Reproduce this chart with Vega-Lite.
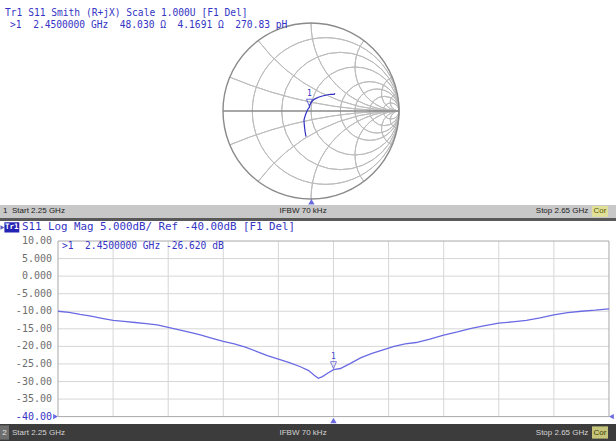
{
  "$schema": "https://vega.github.io/schema/vega-lite/v6.json",
  "background": "white",
  "padding": 0,
  "spacing": 0,
  "config": {"view": {"stroke": null}, "axis": {"disable": true}, "concat": {"spacing": 0}},
  "datasets": {
    "rcircles": [
      {"r": 0.2, "cx": 0.16667, "cy": 0, "R": 0.83333, "t0": 0, "t1": 6.28319},
      {"r": 0.5, "cx": 0.33333, "cy": 0, "R": 0.66667, "t0": 0, "t1": 6.28319},
      {"r": 1, "cx": 0.5, "cy": 0, "R": 0.5, "t0": 0, "t1": 6.28319},
      {"r": 2, "cx": 0.66667, "cy": 0, "R": 0.33333, "t0": 0, "t1": 6.28319},
      {"r": 3, "cx": 0.75, "cy": 0, "R": 0.25, "t0": 0, "t1": 6.28319},
      {"r": 5, "cx": 0.83333, "cy": 0, "R": 0.16667, "t0": 0, "t1": 6.28319},
      {"r": 10, "cx": 0.90909, "cy": 0, "R": 0.09091, "t0": 0, "t1": 6.28319}
    ],
    "xarcs": [
      {"x": 0.2, "cx": 1, "cy": 5, "R": 5, "t0": 3.14159, "t1": 3.53638},
      {"x": 0.5, "cx": 1, "cy": 2, "R": 2, "t0": 3.14159, "t1": 4.06889},
      {"x": 1, "cx": 1, "cy": 1, "R": 1, "t0": 3.14159, "t1": 4.71239},
      {"x": 2, "cx": 1, "cy": 0.5, "R": 0.5, "t0": 3.14159, "t1": 5.35589},
      {"x": 5, "cx": 1, "cy": 0.2, "R": 0.2, "t0": 3.14159, "t1": 5.88839},
      {"x": 10, "cx": 1, "cy": 0.1, "R": 0.1, "t0": 3.14159, "t1": 6.08385},
      {"x": -0.2, "cx": 1, "cy": -5, "R": 5, "t0": 5.8884, "t1": 6.28319},
      {"x": -0.5, "cx": 1, "cy": -2, "R": 2, "t0": 5.35589, "t1": 6.28319},
      {"x": -1, "cx": 1, "cy": -1, "R": 1, "t0": 4.71239, "t1": 6.28319},
      {"x": -2, "cx": 1, "cy": -0.5, "R": 0.5, "t0": 4.06889, "t1": 6.28319},
      {"x": -5, "cx": 1, "cy": -0.2, "R": 0.2, "t0": 3.53639, "t1": 6.28319},
      {"x": -10, "cx": 1, "cy": -0.1, "R": 0.1, "t0": 3.34093, "t1": 6.28319}
    ],
    "outer": [{"cx": 0, "cy": 0, "R": 1, "t0": 0, "t1": 6.28319}],
    "smith": [
      {"i": 0, "gx": 0.273, "gy": 0.201},
      {"i": 1, "gx": 0.262, "gy": 0.19},
      {"i": 2, "gx": 0.22, "gy": 0.19},
      {"i": 3, "gx": 0.178, "gy": 0.182},
      {"i": 4, "gx": 0.13, "gy": 0.17},
      {"i": 5, "gx": 0.083, "gy": 0.156},
      {"i": 6, "gx": 0.04, "gy": 0.135},
      {"i": 7, "gx": 0.008, "gy": 0.106},
      {"i": 8, "gx": -0.012, "gy": 0.072},
      {"i": 9, "gx": -0.018, "gy": 0.043},
      {"i": 10, "gx": -0.035, "gy": 0.02},
      {"i": 11, "gx": -0.049, "gy": -0.008},
      {"i": 12, "gx": -0.065, "gy": -0.05},
      {"i": 13, "gx": -0.08, "gy": -0.102},
      {"i": 14, "gx": -0.078, "gy": -0.14},
      {"i": 15, "gx": -0.074, "gy": -0.178},
      {"i": 16, "gx": -0.068, "gy": -0.23},
      {"i": 17, "gx": -0.057, "gy": -0.292}
    ],
    "logmag": [
      {"f": 2.25, "db": -10.0}, {"f": 2.258, "db": -10.3}, {"f": 2.266, "db": -10.9},
      {"f": 2.274, "db": -11.4}, {"f": 2.282, "db": -12.0}, {"f": 2.29, "db": -12.6},
      {"f": 2.298, "db": -12.9}, {"f": 2.306, "db": -13.2}, {"f": 2.314, "db": -13.5},
      {"f": 2.322, "db": -13.9}, {"f": 2.33, "db": -14.6}, {"f": 2.338, "db": -15.3},
      {"f": 2.346, "db": -16.0}, {"f": 2.354, "db": -16.8}, {"f": 2.362, "db": -17.7},
      {"f": 2.37, "db": -18.6}, {"f": 2.378, "db": -19.3}, {"f": 2.386, "db": -20.2},
      {"f": 2.394, "db": -21.4}, {"f": 2.402, "db": -22.6}, {"f": 2.41, "db": -23.6},
      {"f": 2.418, "db": -24.6}, {"f": 2.426, "db": -25.8}, {"f": 2.432, "db": -26.9},
      {"f": 2.436, "db": -28.2}, {"f": 2.439, "db": -29.1}, {"f": 2.442, "db": -28.6},
      {"f": 2.446, "db": -27.6}, {"f": 2.45, "db": -26.62}, {"f": 2.455, "db": -26.3},
      {"f": 2.462, "db": -24.9}, {"f": 2.47, "db": -23.2}, {"f": 2.478, "db": -22.0},
      {"f": 2.486, "db": -21.0}, {"f": 2.494, "db": -20.0}, {"f": 2.502, "db": -19.3},
      {"f": 2.51, "db": -18.9}, {"f": 2.52, "db": -17.9}, {"f": 2.53, "db": -16.8},
      {"f": 2.54, "db": -15.9}, {"f": 2.55, "db": -14.9}, {"f": 2.56, "db": -14.1},
      {"f": 2.57, "db": -13.4}, {"f": 2.58, "db": -13.0}, {"f": 2.59, "db": -12.6},
      {"f": 2.6, "db": -11.9}, {"f": 2.61, "db": -11.0}, {"f": 2.62, "db": -10.4},
      {"f": 2.63, "db": -10.0}, {"f": 2.64, "db": -9.7}, {"f": 2.65, "db": -9.3}
    ],
    "vgrid": [{"f": 2.29}, {"f": 2.33}, {"f": 2.37}, {"f": 2.41}, {"f": 2.45}, {"f": 2.49}, {"f": 2.53}, {"f": 2.57}, {"f": 2.61}],
    "hgrid": [{"v": -35}, {"v": -30}, {"v": -25}, {"v": -20}, {"v": -15}, {"v": -10}, {"v": -5}, {"v": 0}, {"v": 5}],
    "ylabels": [
      {"v": 10, "l": "10.00"}, {"v": 5, "l": "5.000"}, {"v": 0, "l": "0.000"}, {"v": -5, "l": "-5.000"},
      {"v": -10, "l": "-10.00"}, {"v": -15, "l": "-15.00"}, {"v": -20, "l": "-20.00"}, {"v": -25, "l": "-25.00"},
      {"v": -30, "l": "-30.00"}, {"v": -35, "l": "-35.00"}
    ]
  },
  "vconcat": [
    {
      "width": 616,
      "height": 205,
      "layer": [
        {
          "data": {"name": "rcircles"},
          "mark": {"type": "arc", "filled": false, "stroke": "#bcbcbc", "strokeWidth": 1, "clip": true},
          "encoding": {
            "x": {"field": "cx", "type": "quantitative", "scale": {"domain": [-3.53409, 3.46591], "nice": false, "zero": false}},
            "y": {"field": "cy", "type": "quantitative", "scale": {"domain": [-1.06818, 1.26136], "nice": false, "zero": false}},
            "radius": {"field": "R", "type": "quantitative", "scale": {"type": "linear", "domain": [0, 1], "range": [0, 88], "zero": true, "nice": false}},
            "radius2": {"field": "R"},
            "theta": {"field": "t0", "type": "quantitative", "scale": null, "stack": null},
            "theta2": {"field": "t1"}
          }
        },
        {
          "data": {"name": "xarcs"},
          "mark": {"type": "arc", "filled": false, "stroke": "#bcbcbc", "strokeWidth": 1, "clip": true},
          "encoding": {
            "x": {"field": "cx", "type": "quantitative"},
            "y": {"field": "cy", "type": "quantitative"},
            "radius": {"field": "R", "type": "quantitative"},
            "radius2": {"field": "R"},
            "theta": {"field": "t0", "type": "quantitative", "scale": null, "stack": null},
            "theta2": {"field": "t1"}
          }
        },
        {
          "data": {"name": "outer"},
          "mark": {"type": "arc", "filled": false, "stroke": "#8a8a8a", "strokeWidth": 1.4, "clip": true},
          "encoding": {
            "x": {"field": "cx", "type": "quantitative"},
            "y": {"field": "cy", "type": "quantitative"},
            "radius": {"field": "R", "type": "quantitative"},
            "radius2": {"field": "R"},
            "theta": {"field": "t0", "type": "quantitative", "scale": null, "stack": null},
            "theta2": {"field": "t1"}
          }
        },
        {
          "data": {"values": [{}]},
          "mark": {"type": "rule", "stroke": "#8a8a8a", "strokeWidth": 1.4},
          "encoding": {"x": {"datum": -1}, "x2": {"datum": 1}, "y": {"datum": 0}}
        },
        {
          "data": {"name": "smith"},
          "mark": {"type": "line", "stroke": "#2f2fc4", "strokeWidth": 1.2},
          "encoding": {
            "x": {"field": "gx", "type": "quantitative"},
            "y": {"field": "gy", "type": "quantitative"},
            "order": {"field": "i", "type": "quantitative"}
          }
        },
        {
          "data": {"values": [{"gx": -0.018, "gy": 0.043}]},
          "mark": {"type": "point", "shape": "M-1.5,-4L1.5,-4L0,-0.5Z", "size": 16, "filled": false, "stroke": "#2f2fc4", "strokeWidth": 1},
          "encoding": {"x": {"field": "gx", "type": "quantitative"}, "y": {"field": "gy", "type": "quantitative"}}
        },
        {
          "data": {"values": [{"gx": -0.018, "gy": 0.043, "t": "1"}]},
          "mark": {"type": "text", "font": "DejaVu Sans Mono", "fontSize": 8, "color": "#2f2fc4", "dy": -13, "baseline": "middle"},
          "encoding": {"x": {"field": "gx", "type": "quantitative"}, "y": {"field": "gy", "type": "quantitative"}, "text": {"field": "t"}}
        },
        {
          "data": {"values": [{}]},
          "mark": {"type": "point", "shape": "triangle-up", "size": 40, "filled": true, "color": "#2a2ad0"},
          "encoding": {"x": {"datum": 0.005}, "y": {"datum": -1.03}}
        },
        {
          "data": {"values": [{"t": "Tr1 S11 Smith (R+jX) Scale 1.000U [F1 Del]"}]},
          "mark": {"type": "text", "font": "DejaVu Sans Mono", "fontSize": 9.6, "color": "#3434c4", "align": "left", "baseline": "middle"},
          "encoding": {"x": {"datum": -3.477}, "y": {"datum": 1.11}, "text": {"field": "t"}}
        },
        {
          "data": {"values": [{"t": ">1\u00a0\u00a02.4500000 GHz\u00a0\u00a048.030 Ω\u00a0\u00a04.1691 Ω\u00a0\u00a0270.83 pH"}]},
          "mark": {"type": "text", "font": "DejaVu Sans Mono", "fontSize": 9.6, "color": "#3434c4", "align": "left", "baseline": "middle"},
          "encoding": {"x": {"datum": -3.42}, "y": {"datum": 0.975}, "text": {"field": "t"}}
        }
      ]
    },
    {
      "width": 616,
      "height": 16,
      "view": {"fill": "#c8c8c8"},
      "layer": [
        {
          "data": {"values": [{}]},
          "mark": {"type": "rect", "fill": "#595959"},
          "encoding": {
            "x": {"datum": 0, "scale": {"domain": [0, 1], "nice": false, "zero": false}},
            "x2": {"datum": 1},
            "y": {"datum": 0, "scale": {"domain": [0, 1], "nice": false, "zero": false}},
            "y2": {"datum": 0.19}
          }
        },
        {
          "data": {"values": [{}]},
          "mark": {"type": "rect", "fill": "#e0e098"},
          "encoding": {"x": {"datum": 0.961}, "x2": {"datum": 0.987}, "y": {"datum": 0.26}, "y2": {"datum": 0.94}}
        },
        {
          "data": {"values": [{"t": "1\u00a0\u00a0Start 2.25 GHz"}]},
          "mark": {"type": "text", "font": "Liberation Sans", "fontSize": 8, "color": "#222222", "align": "left", "baseline": "middle"},
          "encoding": {"x": {"datum": 0.005}, "y": {"datum": 0.6}, "text": {"field": "t"}}
        },
        {
          "data": {"values": [{"t": "IFBW 70 kHz"}]},
          "mark": {"type": "text", "font": "Liberation Sans", "fontSize": 8, "color": "#222222", "align": "center", "baseline": "middle"},
          "encoding": {"x": {"datum": 0.492}, "y": {"datum": 0.6}, "text": {"field": "t"}}
        },
        {
          "data": {"values": [{"t": "Stop 2.65 GHz"}]},
          "mark": {"type": "text", "font": "Liberation Sans", "fontSize": 8, "color": "#222222", "align": "right", "baseline": "middle"},
          "encoding": {"x": {"datum": 0.955}, "y": {"datum": 0.6}, "text": {"field": "t"}}
        },
        {
          "data": {"values": [{"t": "Cor"}]},
          "mark": {"type": "text", "font": "Liberation Sans", "fontSize": 8, "color": "#5a5a00", "align": "center", "baseline": "middle"},
          "encoding": {"x": {"datum": 0.974}, "y": {"datum": 0.6}, "text": {"field": "t"}}
        }
      ]
    },
    {
      "width": 616,
      "height": 203,
      "layer": [
        {
          "data": {"name": "vgrid"},
          "mark": {"type": "rule", "stroke": "#d6d6d6", "strokeWidth": 1},
          "encoding": {
            "x": {"field": "f", "type": "quantitative", "scale": {"domain": [2.2079, 2.6551], "nice": false, "zero": false}},
            "y": {"datum": -40, "scale": {"domain": [-42.1, 15.7], "nice": false, "zero": false}},
            "y2": {"datum": 10}
          }
        },
        {
          "data": {"name": "hgrid"},
          "mark": {"type": "rule", "stroke": "#d6d6d6", "strokeWidth": 1},
          "encoding": {
            "x": {"datum": 2.25},
            "x2": {"datum": 2.65},
            "y": {"field": "v", "type": "quantitative"}
          }
        },
        {
          "data": {"values": [{}]},
          "mark": {"type": "rect", "fill": null, "stroke": "#a8a8a8", "strokeWidth": 1},
          "encoding": {"x": {"datum": 2.25}, "x2": {"datum": 2.65}, "y": {"datum": -40}, "y2": {"datum": 10}}
        },
        {
          "data": {"name": "ylabels"},
          "mark": {"type": "text", "font": "DejaVu Sans Mono", "fontSize": 10, "color": "#6e6e6e", "align": "right", "baseline": "middle", "dx": -6},
          "encoding": {"x": {"datum": 2.25}, "y": {"field": "v", "type": "quantitative"}, "text": {"field": "l"}}
        },
        {
          "data": {"values": [{"t": "-40.00"}]},
          "mark": {"type": "text", "font": "DejaVu Sans Mono", "fontSize": 10, "color": "#3434c4", "align": "right", "baseline": "middle", "dx": -6},
          "encoding": {"x": {"datum": 2.25}, "y": {"datum": -40}, "text": {"field": "t"}}
        },
        {
          "data": {"values": [{}]},
          "mark": {"type": "point", "shape": "triangle-right", "size": 30, "filled": true, "color": "#2a2ad0"},
          "encoding": {"x": {"datum": 2.2482}, "y": {"datum": -40}}
        },
        {
          "data": {"values": [{}]},
          "mark": {"type": "point", "shape": "triangle-left", "size": 30, "filled": true, "color": "#2a2ad0"},
          "encoding": {"x": {"datum": 2.6518}, "y": {"datum": -40}}
        },
        {
          "data": {"values": [{}]},
          "mark": {"type": "point", "shape": "triangle-up", "size": 40, "filled": true, "color": "#2a2ad0"},
          "encoding": {"x": {"datum": 2.45}, "y": {"datum": -41.1}}
        },
        {
          "data": {"name": "logmag"},
          "mark": {"type": "line", "stroke": "#6a6ae4", "strokeWidth": 1.3},
          "encoding": {
            "x": {"field": "f", "type": "quantitative"},
            "y": {"field": "db", "type": "quantitative"}
          }
        },
        {
          "data": {"values": [{"f": 2.45, "db": -26.62}]},
          "mark": {"type": "point", "shape": "M-1.5,-4L1.5,-4L0,-0.5Z", "size": 16, "filled": false, "stroke": "#4a4ad4", "strokeWidth": 1},
          "encoding": {"x": {"field": "f", "type": "quantitative"}, "y": {"field": "db", "type": "quantitative"}}
        },
        {
          "data": {"values": [{"f": 2.45, "db": -26.62, "t": "1"}]},
          "mark": {"type": "text", "font": "DejaVu Sans Mono", "fontSize": 8, "color": "#4a4ad4", "dy": -13, "baseline": "middle"},
          "encoding": {"x": {"field": "f", "type": "quantitative"}, "y": {"field": "db", "type": "quantitative"}, "text": {"field": "t"}}
        },
        {
          "data": {"values": [{"t": ">1\u00a0\u00a02.4500000 GHz -26.620 dB"}]},
          "mark": {"type": "text", "font": "DejaVu Sans Mono", "fontSize": 9.6, "color": "#3434c4", "align": "left", "baseline": "middle"},
          "encoding": {"x": {"datum": 2.2529}, "y": {"datum": 8.67}, "text": {"field": "t"}}
        },
        {
          "data": {"values": [{}]},
          "mark": {"type": "point", "shape": "triangle-right", "size": 22, "filled": true, "color": "#1c1c9c"},
          "encoding": {"x": {"datum": 2.2097}, "y": {"datum": 13.85}}
        },
        {
          "data": {"values": [{}]},
          "mark": {"type": "rect", "fill": "#2424b4"},
          "encoding": {"x": {"datum": 2.2111}, "x2": {"datum": 2.2219}, "y": {"datum": 12.4}, "y2": {"datum": 15.35}}
        },
        {
          "data": {"values": [{"t": "Tr1"}]},
          "mark": {"type": "text", "font": "DejaVu Sans Mono", "fontSize": 7.5, "fontWeight": "bold", "color": "white", "align": "center", "baseline": "middle"},
          "encoding": {"x": {"datum": 2.2165}, "y": {"datum": 13.85}, "text": {"field": "t"}}
        },
        {
          "data": {"values": [{"t": "S11 Log Mag 5.000dB/ Ref -40.00dB [F1 Del]"}]},
          "mark": {"type": "text", "font": "DejaVu Sans Mono", "fontSize": 10.8, "color": "#3434c4", "align": "left", "baseline": "middle"},
          "encoding": {"x": {"datum": 2.2238}, "y": {"datum": 13.85}, "text": {"field": "t"}}
        }
      ]
    },
    {
      "width": 616,
      "height": 17,
      "view": {"fill": "#3c3c3c"},
      "layer": [
        {
          "data": {"values": [{}]},
          "mark": {"type": "rect", "fill": "#6e6e6e"},
          "encoding": {
            "x": {"datum": 0, "scale": {"domain": [0, 1], "nice": false, "zero": false}},
            "x2": {"datum": 0.0146},
            "y": {"datum": 0.08, "scale": {"domain": [0, 1], "nice": false, "zero": false}},
            "y2": {"datum": 0.92}
          }
        },
        {
          "data": {"values": [{}]},
          "mark": {"type": "rect", "fill": "#c4c47a"},
          "encoding": {"x": {"datum": 0.961}, "x2": {"datum": 0.987}, "y": {"datum": 0.14}, "y2": {"datum": 0.86}}
        },
        {
          "data": {"values": [{"t": "2"}]},
          "mark": {"type": "text", "font": "Liberation Sans", "fontSize": 8, "color": "#e4e4e4", "align": "center", "baseline": "middle"},
          "encoding": {"x": {"datum": 0.0073}, "y": {"datum": 0.5}, "text": {"field": "t"}}
        },
        {
          "data": {"values": [{"t": "Start 2.25 GHz"}]},
          "mark": {"type": "text", "font": "Liberation Sans", "fontSize": 8, "color": "#d4d4d4", "align": "left", "baseline": "middle"},
          "encoding": {"x": {"datum": 0.0195}, "y": {"datum": 0.5}, "text": {"field": "t"}}
        },
        {
          "data": {"values": [{"t": "IFBW 70 kHz"}]},
          "mark": {"type": "text", "font": "Liberation Sans", "fontSize": 8, "color": "#d4d4d4", "align": "center", "baseline": "middle"},
          "encoding": {"x": {"datum": 0.492}, "y": {"datum": 0.5}, "text": {"field": "t"}}
        },
        {
          "data": {"values": [{"t": "Stop 2.65 GHz"}]},
          "mark": {"type": "text", "font": "Liberation Sans", "fontSize": 8, "color": "#d4d4d4", "align": "right", "baseline": "middle"},
          "encoding": {"x": {"datum": 0.955}, "y": {"datum": 0.5}, "text": {"field": "t"}}
        },
        {
          "data": {"values": [{"t": "Cor"}]},
          "mark": {"type": "text", "font": "Liberation Sans", "fontSize": 8, "color": "#3c3c00", "align": "center", "baseline": "middle"},
          "encoding": {"x": {"datum": 0.974}, "y": {"datum": 0.5}, "text": {"field": "t"}}
        }
      ]
    }
  ]
}
